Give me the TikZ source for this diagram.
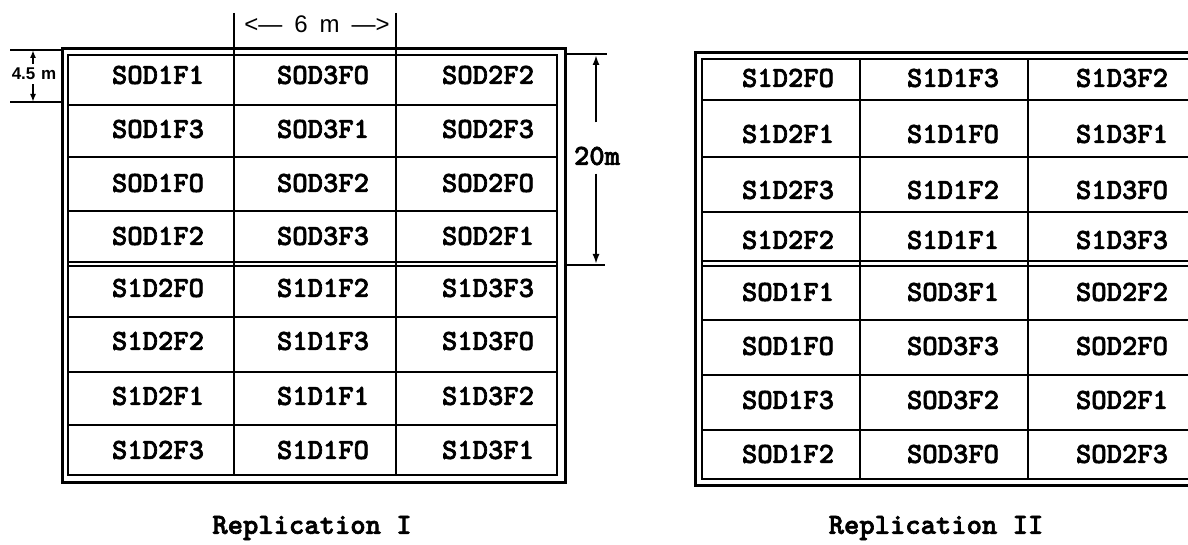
\documentclass[tikz,border=0pt]{standalone}
\usepackage{fontspec}
\newfontfamily\dimfont{Liberation Sans}
\newfontfamily\cellfont{lmmonolt10-bold.otf}[FakeBold=2.2]
\usetikzlibrary{arrows.meta}

\begin{document}
\begin{tikzpicture}[x=0.5pt,y=-0.5pt,
  plot/.style={font=\cellfont\fontsize{14.6}{16}\selectfont, inner sep=0pt},
  frame/.style={line width=1.5pt},
  inframe/.style={line width=1pt},
  grid/.style={line width=0.9pt},
  dimarrow/.style={line width=1pt,-{Latex[length=5pt,width=3.5pt]}}]
\useasboundingbox (0,0) rectangle (1188,545);
\clip (0,0) rectangle (1188,545);

% Replication I
\draw[frame] (62,49) rectangle (565,482);
\draw[inframe] (68,55) rectangle (557,475);
\foreach \y in {105,157,211,317,372,425}
  \draw[grid] (68,\y) -- (557,\y);
\draw[grid] (68,262) -- (557,262) (68,266) -- (557,266);
\foreach \x in {234,396}
  \draw[grid] (\x,13) -- (\x,475);
\foreach \y/\a/\b/\c [count=\i] in {75/SOD1F1/SOD3FO/SOD2F2, 129/SOD1F3/SOD3F1/SOD2F3,
    183/SOD1FO/SOD3F2/SOD2FO, 236/SOD1F2/SOD3F3/SOD2F1, 288/S1D2FO/S1D1F2/S1D3F3,
    341/S1D2F2/S1D1F3/S1D3FO, 396/S1D2F1/S1D1F1/S1D3F2, 450/S1D2F3/S1D1FO/S1D3F1}
{
  \node[plot] (I-\i-1) at (158,\y) {\a};
  \node[plot] (I-\i-2) at (323,\y) {\b};
  \node[plot] (I-\i-3) at (488,\y) {\c};
}
\node[plot] (repI) at (312,528) {Replication I};

% width of a plot
\node[font=\dimfont\fontsize{12}{14}\selectfont, inner sep=0pt] (sixm) at (317,24) {<—\enspace6\enspace m\enspace—>};

% length of a plot
\draw[line width=0.8pt] (10,50) -- (62,50);
\draw[line width=0.8pt] (10,102) -- (62,102);
\coordinate (ftop) at (33,50);
\coordinate (fbot) at (33,102);
\node[font=\dimfont\bfseries\fontsize{8.5}{10}\selectfont, inner sep=2pt] (fourfive) at (34,74) {4.5\,\,m};
\draw[line width=0.8pt,-{Latex[length=4pt,width=3pt]}] (fourfive.north -| ftop) -- (ftop);
\draw[line width=0.8pt,-{Latex[length=4pt,width=3pt]}] (fourfive.south -| fbot) -- (fbot);

% block length
\draw[line width=0.8pt] (565,54) -- (607,54);
\draw[line width=0.8pt] (565,265) -- (605,265);
\coordinate (ttop) at (596,55);
\coordinate (tbot) at (596,264);
\node[plot] (twenty) at (597,156) {20m};
\draw[dimarrow] ([yshift=12pt]twenty.north -| ttop) -- (ttop);
\draw[dimarrow] ([yshift=-4pt]twenty.south -| tbot) -- (tbot);

% Replication II
\draw[frame] (695,53) rectangle (1212,485);
\draw[inframe] (702,59) rectangle (1202,479);
\foreach \y in {100,157,212,320,375,430}
  \draw[grid] (702,\y) -- (1202,\y);
\draw[grid] (702,261) -- (1202,261) (702,266) -- (1202,266);
\foreach \x in {860,1028}
  \draw[grid] (\x,59) -- (\x,479);
\foreach \y/\a/\b/\c [count=\i] in {78/S1D2FO/S1D1F3/S1D3F2, 134/S1D2F1/S1D1FO/S1D3F1,
    190/S1D2F3/S1D1F2/S1D3FO, 240/S1D2F2/S1D1F1/S1D3F3, 292/SOD1F1/SOD3F1/SOD2F2,
    346/SOD1FO/SOD3F3/SOD2FO, 400/SOD1F3/SOD3F2/SOD2F1, 454/SOD1F2/SOD3FO/SOD2F3}
{
  \node[plot] (II-\i-1) at (788,\y) {\a};
  \node[plot] (II-\i-2) at (953,\y) {\b};
  \node[plot] (II-\i-3) at (1122,\y) {\c};
}
\node[plot] (repII) at (936,528) {Replication II};
\end{tikzpicture}
\end{document}
